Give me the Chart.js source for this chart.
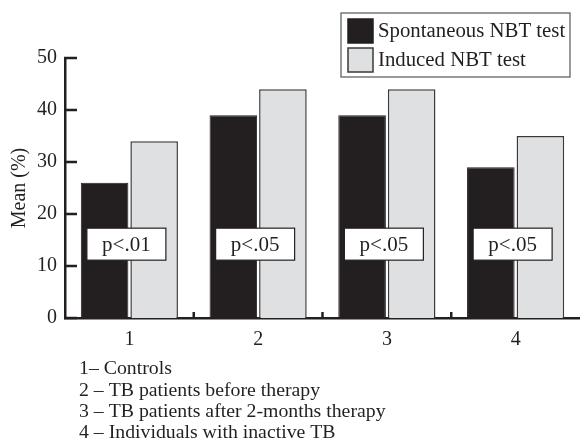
<!DOCTYPE html>
<html>
<head>
<meta charset="utf-8">
<script src="https://cdn.jsdelivr.net/npm/chart.js@4"></script>
<style>
  html, body { margin: 0; padding: 0; background: #fff; }
  #wrap { width: 580px; height: 448px; }
</style>
</head>
<body>
<div id="wrap"><canvas id="nbt-chart" width="580" height="448"></canvas></div>
<script>
// values
const groups = ['1', '2', '3', '4'];
const spontaneous = [26, 39, 39, 29];
const induced = [34, 44, 44, 35];
const pLabels = ['p<.01', 'p<.05', 'p<.05', 'p<.05'];
const pLevel = 14.2; // where the p boxes sit on the y scale
const yTicks = [0, 10, 20, 30, 40, 50];
const footnotes = [
    '1\u2013 Controls',
    '2 \u2013 TB patients before therapy',
    '3 \u2013 TB patients after 2-months therapy',
    '4 \u2013 Individuals with inactive TB'
];

const SERIF = '"Liberation Serif", "Times New Roman", serif';
const INK = '#231f20';

// inward ticks on y, small upward ticks between categories on x
const axisTicks = {
    id: 'axisTicks',
    afterDraw(chart) {
        const ctx = chart.ctx;
        const x = chart.scales.x, y = chart.scales.y;
        ctx.save();
        ctx.strokeStyle = INK;
        ctx.lineWidth = 2.5;
        yTicks.forEach(v => {
            const py = y.getPixelForValue(v);
            ctx.beginPath();
            ctx.moveTo(x.left - 1, py);
            ctx.lineTo(x.left + 12, py);
            ctx.stroke();
        });
        for (let i = 1; i < groups.length; i++) {
            const px = (x.getPixelForValue(i - 1) + x.getPixelForValue(i)) / 2;
            ctx.beginPath();
            ctx.moveTo(px, y.bottom);
            ctx.lineTo(px, y.bottom - 6);
            ctx.stroke();
        }
        ctx.restore();
    }
};

// boxed significance labels over each pair of bars
const pBoxes = {
    id: 'pBoxes',
    afterDatasetsDraw(chart) {
        const ctx = chart.ctx;
        const x = chart.scales.x, y = chart.scales.y;
        const py = y.getPixelForValue(pLevel);
        ctx.save();
        ctx.font = '21px ' + SERIF;
        ctx.textAlign = 'center';
        ctx.textBaseline = 'middle';
        pLabels.forEach((txt, i) => {
            const px = x.getPixelForValue(i) - 3;
            const w = 79, h = 32;
            ctx.fillStyle = '#fff';
            ctx.fillRect(px - w / 2, py - h / 2, w, h);
            ctx.strokeStyle = INK;
            ctx.lineWidth = 1.2;
            ctx.strokeRect(px - w / 2, py - h / 2, w, h);
            ctx.fillStyle = INK;
            ctx.fillText(txt, px, py + 1);
        });
        ctx.restore();
    }
};

// boxed legend in the top-right corner
const boxLegend = {
    id: 'boxLegend',
    afterDraw(chart) {
        const ctx = chart.ctx;
        const left = 341, top = 13, right = 570, bottom = 77;
        ctx.save();
        ctx.strokeStyle = '#555';
        ctx.lineWidth = 1.2;
        ctx.strokeRect(left, top, right - left, bottom - top);
        ctx.font = '20.8px ' + SERIF;
        ctx.textBaseline = 'middle';
        ctx.textAlign = 'left';
        const rows = [31, 60];
        chart.data.datasets.forEach((ds, i) => {
            const cy = rows[i];
            ctx.fillStyle = ds.backgroundColor;
            ctx.fillRect(348, cy - 12, 25, 24);
            ctx.strokeStyle = ds.borderColor;
            ctx.lineWidth = 1.5;
            ctx.strokeRect(348, cy - 12, 25, 24);
            ctx.fillStyle = INK;
            ctx.fillText(ds.label, 378, cy + 1);
        });
        ctx.restore();
    }
};

// group key under the axis
const footnote = {
    id: 'footnote',
    afterDraw(chart) {
        const ctx = chart.ctx;
        ctx.save();
        ctx.font = '19.8px ' + SERIF;
        ctx.fillStyle = INK;
        ctx.textAlign = 'left';
        ctx.textBaseline = 'middle';
        footnotes.forEach((line, i) => {
            ctx.fillText(line, 79, 369 + i * 21.4);
        });
        ctx.restore();
    }
};

document.addEventListener('DOMContentLoaded', () => {
    const ctx = document.getElementById('nbt-chart').getContext('2d');
    window.nbtChart = new Chart(ctx, {
        type: 'bar',
        data: {
            labels: groups,
            datasets: [{
                label: 'Spontaneous NBT test',
                data: spontaneous,
                backgroundColor: INK,
                borderColor: INK,
                borderWidth: 1
            }, {
                label: 'Induced NBT test',
                data: induced,
                backgroundColor: '#dfe0e2',
                borderColor: '#3a3a3a',
                borderWidth: 1.5
            }]
        },
        options: {
            responsive: false,
            animation: false,
            datasets: {
                bar: {
                    categoryPercentage: 0.77,
                    barPercentage: 0.96
                }
            },
            layout: {
                padding: { top: 58, right: -3, bottom: 0, left: 0 }
            },
            scales: {
                x: {
                    type: 'category',
                    offset: true,
                    grid: { display: false, drawTicks: false },
                    border: { display: true, color: INK, width: 2.5 },
                    ticks: {
                        color: INK,
                        font: { family: SERIF, size: 20 },
                        padding: 10
                    },
                    afterFit(scale) { scale.height = 130; }
                },
                y: {
                    min: 0,
                    max: 50,
                    grid: { display: false, drawTicks: false },
                    border: { display: true, color: INK, width: 2.5 },
                    ticks: {
                        stepSize: 10,
                        color: INK,
                        font: { family: SERIF, size: 20 },
                        padding: 8
                    },
                    title: {
                        display: true,
                        text: 'Mean (%)',
                        color: INK,
                        font: { family: SERIF, size: 20 },
                        padding: { top: 8, bottom: 0 }
                    },
                    afterFit(scale) { scale.width = 65; }
                }
            },
            plugins: {
                legend: { display: false },
                tooltip: { enabled: false }
            }
        },
        plugins: [axisTicks, pBoxes, boxLegend, footnote]
    });
});
</script>
</body>
</html>
